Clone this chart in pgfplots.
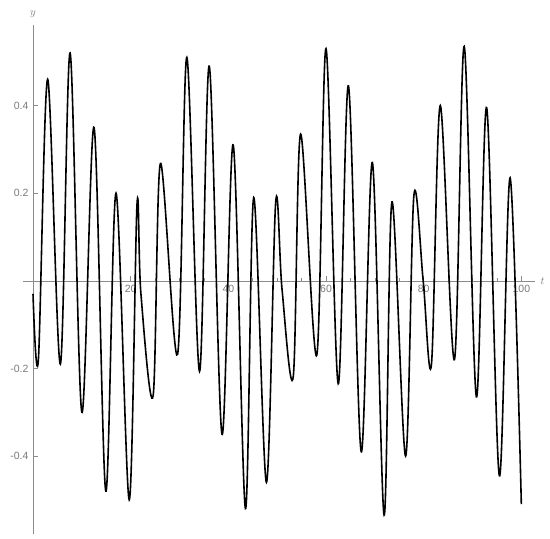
\documentclass[border=0pt]{standalone}
\usepackage{fontspec}
\setmainfont{Liberation Sans}
\usepackage{pgfplots}
\pgfplotsset{compat=1.18}
\definecolor{axgray}{HTML}{8C8C8C}
\definecolor{lblgray}{HTML}{7A7A7A}

\begin{document}
\begin{tikzpicture}
\begin{axis}[
  name=ax,
  scale only axis,
  width=512pt, height=509pt,
  xmin=-2.05, xmax=102.8,
  ymin=-0.578, ymax=0.584,
  axis lines=middle,
  axis line style={-, draw=axgray, line width=0.6pt},
  xtick={20,40,60,80,100},
  xticklabels={20,40,60,80,100},
  ytick={-0.4,-0.2,0.2,0.4},
  yticklabels={-0.4,-0.2,0.2,0.4},
  minor x tick num=3,
  minor y tick num=3,
  tick align=inside,
  major tick length=5pt,
  minor tick length=3pt,
  tick style={draw=axgray, line width=0.6pt},
  ticklabel style={font=\fontsize{10.5}{12}\selectfont, text=lblgray},
  xticklabel style={yshift=-1pt},
  yticklabel style={xshift=-1pt},
  xlabel={$t$}, ylabel={$y$},
  every axis x label/.style={at={(current axis.right of origin)}, anchor=west,
    font=\fontsize{11}{12}\selectfont, text=lblgray, xshift=2pt},
  every axis y label/.style={at={(current axis.above origin)}, anchor=south,
    font=\fontsize{11}{12}\selectfont, text=lblgray, yshift=4pt},
  clip=false,
]
% signal y(t), read off the extrema and a few crossings
\addplot[black, line width=1.6pt, smooth, tension=0.55] coordinates {
  (0,-0.03) (1.1,-0.18) (3.0,0.46) (5.6,-0.19) (7.6,0.52) (10.0,-0.30)
  (12.5,0.35) (14.9,-0.48) (17.0,0.20) (19.7,-0.50) (21.3,0.175)
  (22.1,-0.03) (24.6,-0.262) (26.1,0.268) (29.6,-0.168)
  (31.5,0.51) (34.1,-0.207) (36.1,0.49) (38.7,-0.35) (41.0,0.31)
  (43.5,-0.52) (45.2,0.19) (47.8,-0.46) (49.7,0.18) (51.0,-0.02)
  (53.3,-0.218) (54.8,0.335) (58.1,-0.17) (60.0,0.53) (62.5,-0.235)
  (64.6,0.445) (67.2,-0.39) (69.5,0.27) (71.9,-0.535) (73.5,0.18)
  (76.3,-0.40) (78.0,0.195) (79.9,0.0)
  (81.6,-0.19) (83.4,0.40) (86.3,-0.18) (88.3,0.535) (90.8,-0.265)
  (92.9,0.395) (95.5,-0.445) (97.7,0.235) (100,-0.51)
};
\end{axis}
\pgfresetboundingbox
\path[use as bounding box] (ax.south west) ++(-23pt,-5pt) rectangle ([xshift=15pt,yshift=25pt]ax.north east);
\end{tikzpicture}
\end{document}
